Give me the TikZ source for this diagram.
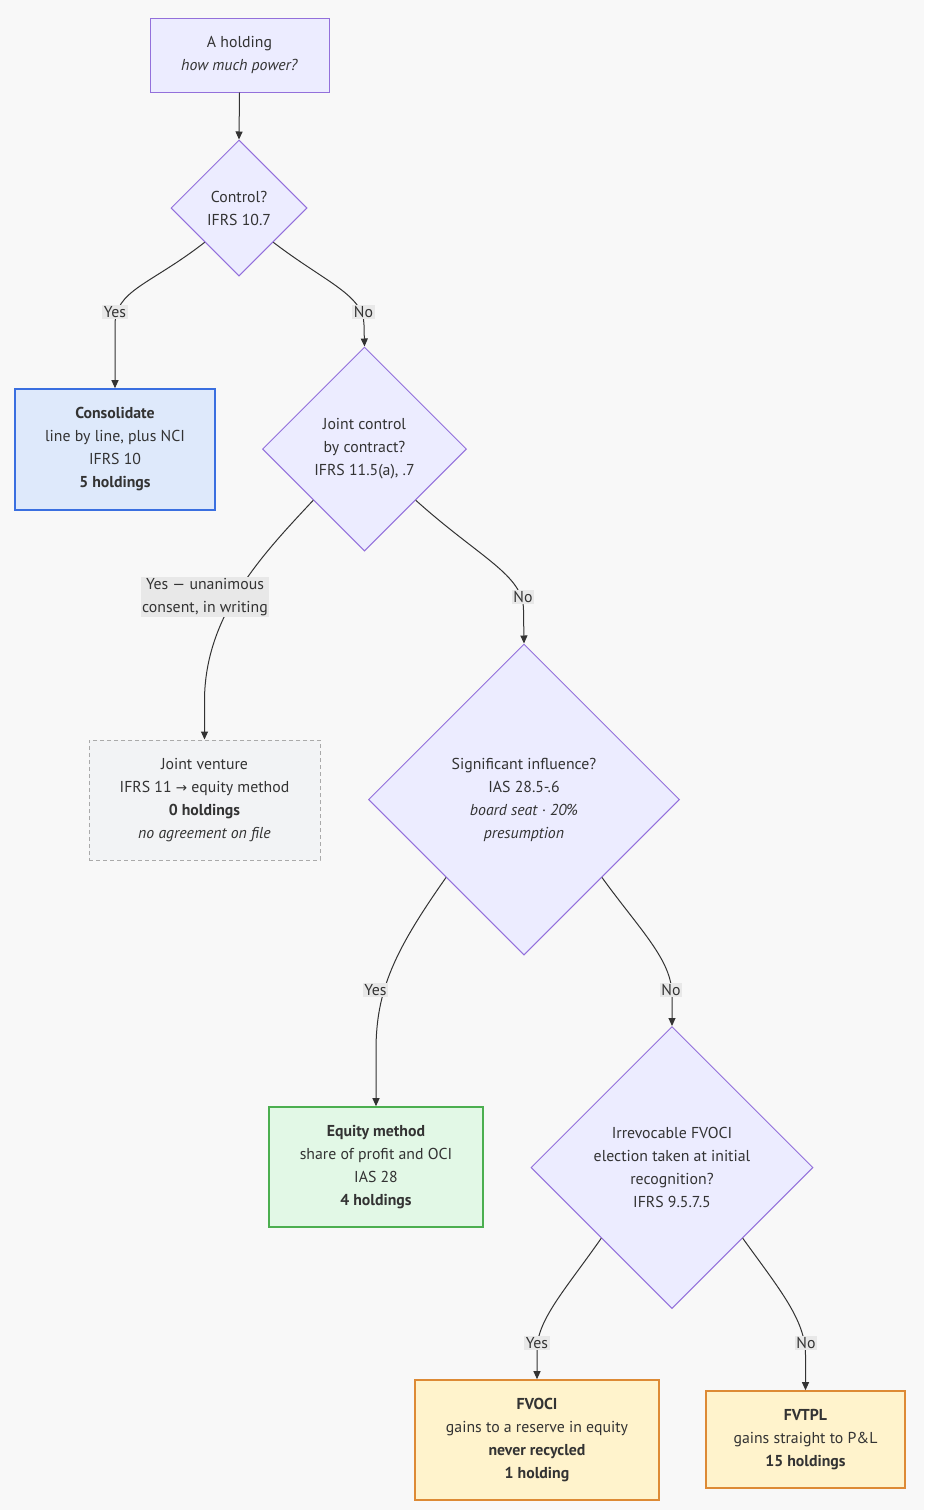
\documentclass[tikz,border=0pt]{standalone}
\usepackage{fontspec}
\setmainfont{PT Sans}
\newfontfamily\symfont{DejaVu Sans}
\usetikzlibrary{shapes.geometric,arrows.meta}
\definecolor{bg}{HTML}{F8F8F8}
\definecolor{txt}{HTML}{333333}
\definecolor{edgec}{HTML}{333333}
\definecolor{purpfill}{HTML}{ECECFF}
\definecolor{purpline}{HTML}{9370DB}
\definecolor{bluefill}{HTML}{DEE9FB}
\definecolor{blueline}{HTML}{3A6FE0}
\definecolor{grayfill}{HTML}{F2F3F5}
\definecolor{grayline}{HTML}{AAAAAA}
\definecolor{greenfill}{HTML}{E2F8E6}
\definecolor{greenline}{HTML}{4CAF50}
\definecolor{orangefill}{HTML}{FFF3CC}
\definecolor{orangeline}{HTML}{DD8A35}
\definecolor{lblbg}{HTML}{E8E8E8}
\tikzset{
  basebox/.style={align=center, inner sep=0pt, text=txt, font=\fontsize{15.8}{23}\selectfont},
  startbox/.style={basebox, rectangle, fill=purpfill, draw=purpline, line width=1pt},
  decision/.style={basebox, diamond, aspect=1, fill=purpfill, draw=purpline, line width=1pt},
  bluebox/.style={basebox, rectangle, fill=bluefill, draw=blueline, line width=1.6pt},
  graybox/.style={basebox, rectangle, fill=grayfill, draw=grayline, line width=1pt, dash pattern=on 4pt off 3pt},
  greenbox/.style={basebox, rectangle, fill=greenfill, draw=greenline, line width=1.6pt},
  orangebox/.style={basebox, rectangle, fill=orangefill, draw=orangeline, line width=1.6pt},
  lbl/.style={basebox, fill=lblbg, inner xsep=1.5pt, inner ysep=1.5pt},
  edge/.style={draw=edgec, line width=1pt, -{Triangle[length=8pt,width=7pt]}}
}
\begin{document}
\begin{tikzpicture}[x=1pt,y=-1pt]
\fill[bg] (0,0) rectangle (924,1510);
\useasboundingbox (0,0) rectangle (924,1510);

% nodes
\node[startbox, minimum width=179pt, minimum height=74pt] (start) at (239.5,55) {A holding\\\textit{how much power?}};
\node[decision, minimum width=136pt, minimum height=136pt] (ctrl) at (239,208) {Control?\\IFRS 10.7};
\node[bluebox, minimum width=200pt, minimum height=121pt] (cons) at (115,449.5) {\textbf{Consolidate}\\line by line, plus NCI\\IFRS 10\\\textbf{5 holdings}};
\node[decision, minimum width=204pt, minimum height=204pt] (joint) at (364.5,449) {Joint control\\by contract?\\IFRS 11.5(a), .7};
\node[graybox, minimum width=231pt, minimum height=120pt] (jv) at (204.5,800) {Joint venture\\IFRS 11 {\symfont\fontsize{13.5}{23}\selectfont →} equity method\\\textbf{0 holdings}\\\textit{no agreement on file}};
\node[decision, minimum width=311pt, minimum height=311pt] (sig) at (524,799.5) {Significant influence?\\IAS 28.5-.6\\\textit{board seat · 20\%}\\\textit{presumption}};
\node[greenbox, minimum width=214pt, minimum height=120pt] (eq) at (376,1167) {\textbf{Equity method}\\share of profit and OCI\\IAS 28\\\textbf{4 holdings}};
\node[decision, minimum width=282pt, minimum height=282pt] (irr) at (672,1167.5) {Irrevocable FVOCI\\election taken at initial\\recognition?\\IFRS 9.5.7.5};
\node[orangebox, minimum width=244pt, minimum height=120pt] (fvoci) at (537,1440) {\textbf{FVOCI}\\gains to a reserve in equity\\\textbf{never recycled}\\\textbf{1 holding}};
\node[orangebox, minimum width=199pt, minimum height=97pt] (fvtpl) at (805.5,1439.5) {\textbf{FVTPL}\\gains straight to P\&L\\\textbf{15 holdings}};

% edges
\draw[edge] (start.south) -- (ctrl.north);
\draw[edge] (ctrl.south west) .. controls (150,285) and (115,290) .. (115,325) -- (cons.north);
\draw[edge] (ctrl.south east) .. controls (325,282) and (364,295) .. (364,325) -- (joint.north);
\draw[edge] (joint.south west) .. controls (262,555) and (205,615) .. (204.5,700) -- (jv.north);
\draw[edge] (joint.south east) .. controls (480,558) and (523.5,575) .. (523.5,610) -- (sig.north);
\draw[edge] (sig.south west) .. controls (395,950) and (376,990) .. (376,1050) -- (eq.north);
\draw[edge] (sig.south east) .. controls (640,930) and (672,960) .. (672,995) -- (irr.north);
\draw[edge] (irr.south west) .. controls (565,1290) and (537,1320) .. (537,1350) -- (fvoci.north);
\draw[edge] (irr.south east) .. controls (780,1290) and (805.5,1320) .. (805.5,1355) -- (fvtpl.north);

% edge labels
\node[lbl] (l1) at (115,312) {Yes};
\node[lbl] (l2) at (363.5,312) {No};
\node[lbl] (l3) at (205,597) {Yes — unanimous\\consent, in writing};
\node[lbl] (l4) at (523,597) {No};
\node[lbl] (l5) at (375.5,990) {Yes};
\node[lbl] (l6) at (671,990) {No};
\node[lbl] (l7) at (537,1343) {Yes};
\node[lbl] (l8) at (806,1343) {No};
\end{tikzpicture}
\end{document}
